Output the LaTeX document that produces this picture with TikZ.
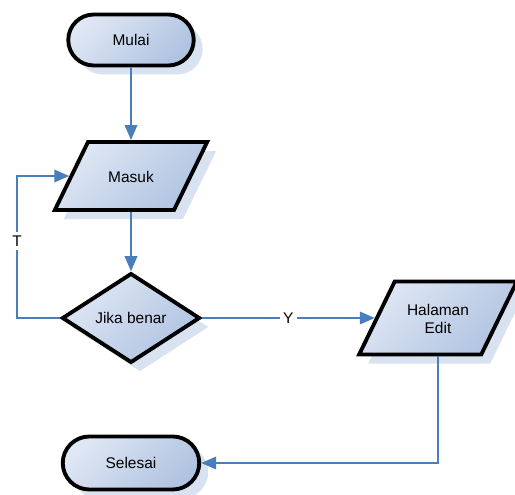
\documentclass[tikz,border=0pt]{standalone}
\usepackage{fontspec}
\setmainfont{Liberation Sans}
\usetikzlibrary{arrows.meta,positioning,shapes.geometric,shapes.misc,shadows}
\definecolor{lineblue}{HTML}{4A7EBB}
\definecolor{fillhi}{HTML}{DFE7F4}
\definecolor{filllo}{HTML}{B0C3E1}
\definecolor{shadowblue}{HTML}{D9E2F1}
\tikzset{%
	box/.style      = {draw=black, line width=2.2pt, top color=fillhi, bottom color=filllo, shading angle=45,
	                   drop shadow={shadow xshift=0.18cm, shadow yshift=-0.18cm, fill=shadowblue, opacity=1},
	                   font=\fontsize{8.8}{10.4}\selectfont, align=center, inner sep=1pt},
	startstop/.style= {box, rounded rectangle, minimum width=2.58cm, minimum height=1.02cm},
	inout/.style    = {box, trapezium, trapezium left angle=64, trapezium right angle=116,
	                   inner sep=0pt, text width=1.72cm, text height=0.8cm, text depth=0.56cm},
	decision/.style = {box, diamond, minimum width=2.76cm, minimum height=1.64cm},
	arrow/.style    = {draw=lineblue, line width=1.1pt, -{Triangle[length=3mm, width=2.5mm]}},
	flowtag/.style  = {fill=white, inner sep=2pt, font=\fontsize{8.8}{10.4}\selectfont},
}
\begin{document}
\begin{tikzpicture}[node distance = 2.8cm]
	\useasboundingbox (-2.62,0.8) rectangle (7.68,-9.1);
	\node[startstop] (mulai) {Mulai};
	\node[inout,node distance=2.72cm,below of=mulai] (masuk) {Masuk};
	\node[decision,node distance=2.84cm,below of=masuk] (jika) {Jika benar};
	\node[inout,node distance=6.14cm,right of=jika,text width=1.73cm,text height=0.68cm,text depth=0.78cm] (halaman) {Halaman\\Edit};
	\node[startstop,node distance=2.9cm,below of=jika,minimum width=2.8cm,minimum height=1.06cm] (selesai) {Selesai};
	\draw[arrow] (mulai) -- (masuk);
	\draw[arrow] (masuk) -- (jika);
	\draw[arrow] (jika) -- node[flowtag] {Y} (halaman);
	\draw[arrow] (jika.west) -- ++(-0.86,0) |- node[pos=0.27,flowtag] {T} (masuk);
	\draw[arrow] (halaman) |- (selesai);
\end{tikzpicture}
\end{document}
